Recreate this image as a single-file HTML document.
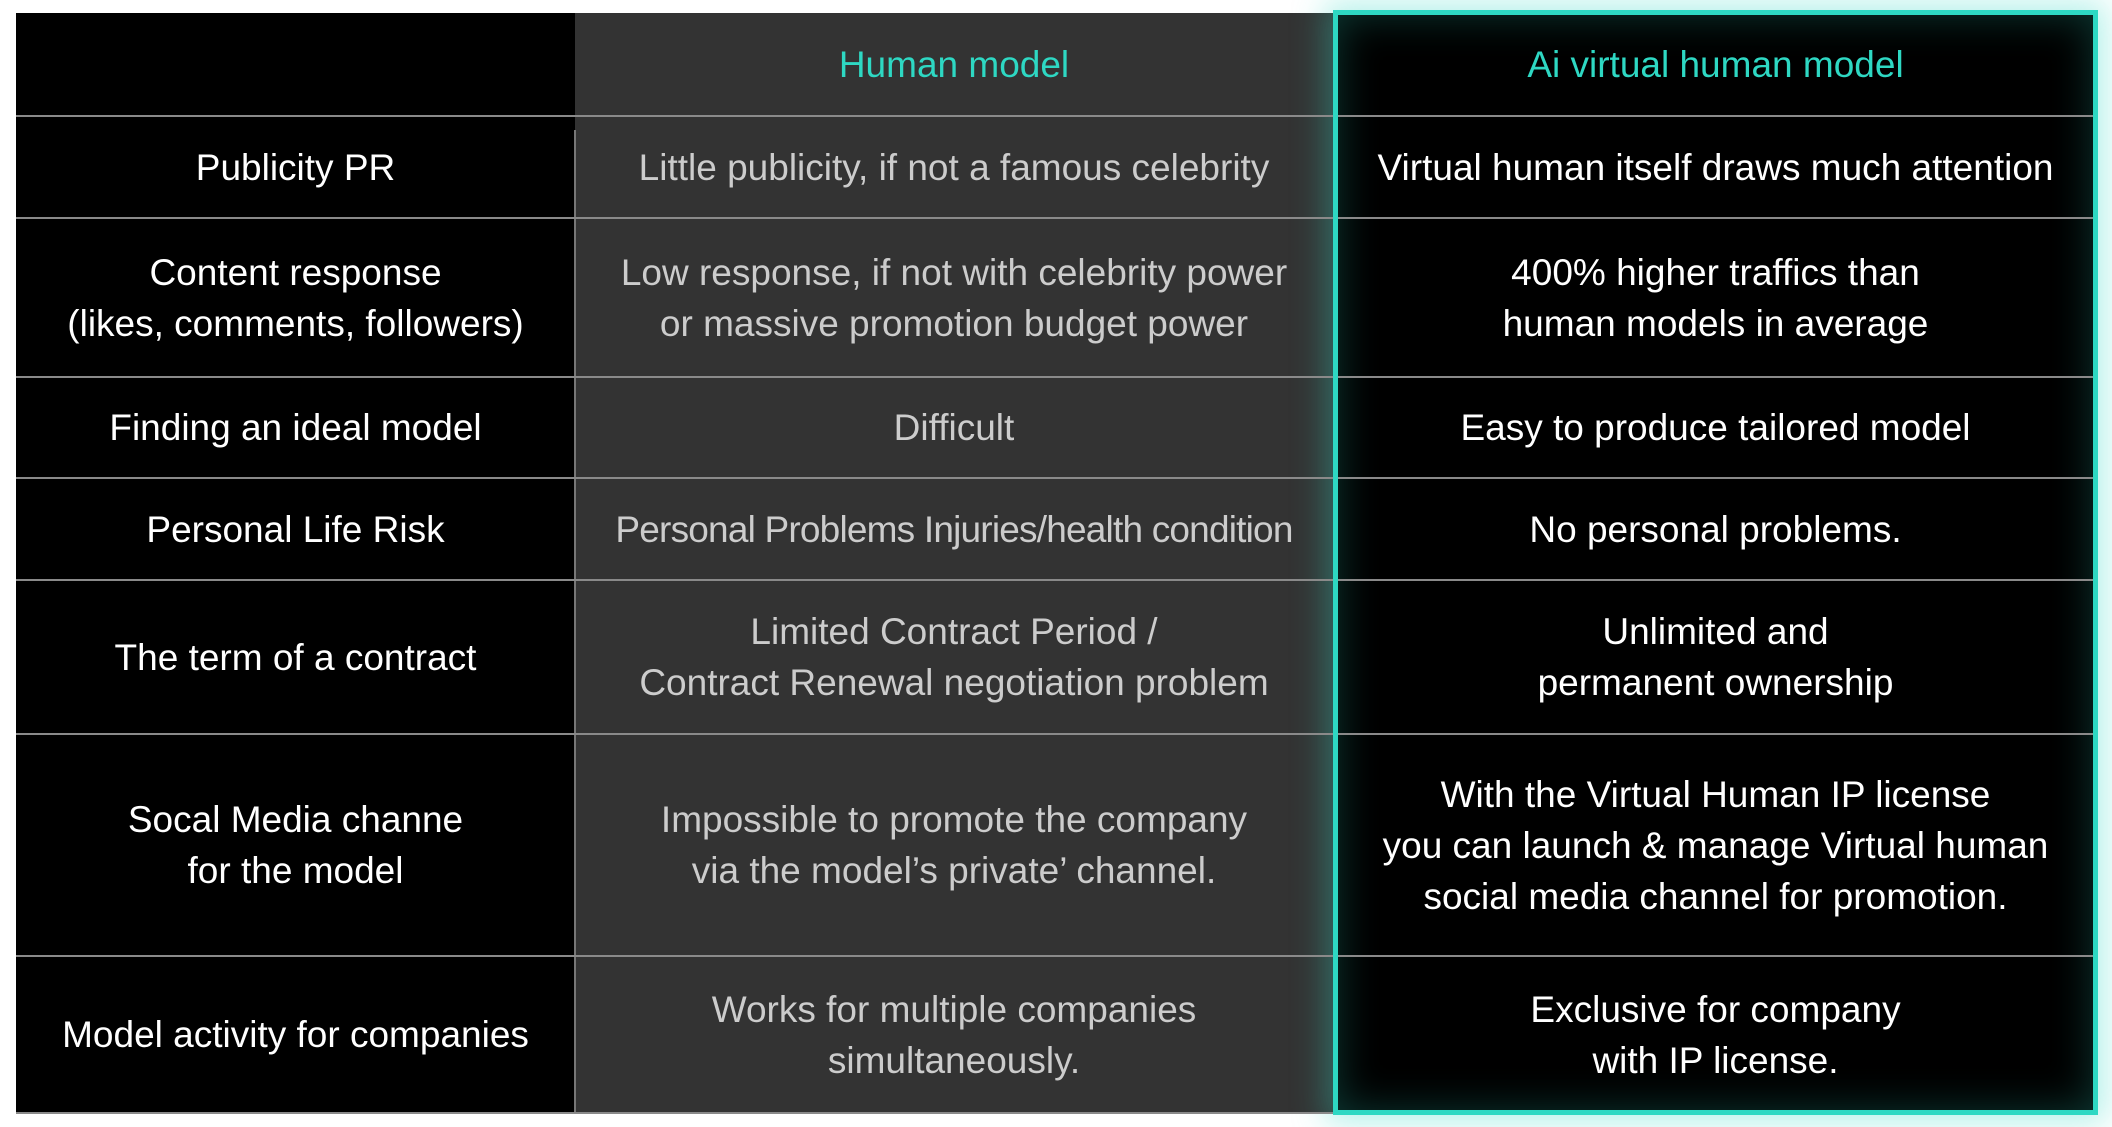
<!DOCTYPE html>
<html><head><style>
body{margin:0;width:2112px;height:1127px;background:#fff;position:relative;overflow:hidden;font-family:"Liberation Sans",sans-serif;}
.c{position:absolute;display:flex;align-items:center;justify-content:center;text-align:center;font-size:37px;line-height:51px;white-space:nowrap;}
.h{position:absolute;height:2px;background:#8a8a8a;}
</style></head><body>
<div style="position:absolute;left:16px;top:13px;width:559px;height:1100px;background:#000"></div>
<div style="position:absolute;left:575px;top:13px;width:758px;height:1100px;background:#333"></div>
<div style="position:absolute;left:1333px;top:10px;width:765px;height:1105px;background:#000;box-shadow:0 0 30px 8px rgba(46,216,195,0.35), inset 0 0 40px 6px rgba(46,216,195,0.25);"></div>
<div style="position:absolute;left:574px;top:130px;width:2px;height:983px;background:#777"></div>
<div class="h" style="left:16px;top:115px;width:2082px"></div>
<div class="h" style="left:16px;top:217px;width:2082px"></div>
<div class="h" style="left:16px;top:376px;width:2082px"></div>
<div class="h" style="left:16px;top:477px;width:2082px"></div>
<div class="h" style="left:16px;top:579px;width:2082px"></div>
<div class="h" style="left:16px;top:733px;width:2082px"></div>
<div class="h" style="left:16px;top:955px;width:2082px"></div>
<div class="h" style="left:16px;top:1112px;width:2082px"></div>
<div style="position:absolute;left:1333px;top:10px;width:755px;height:1095px;border:5px solid #2ed8c3;"></div>

<div class="c" style="left:575px;top:13px;width:758px;height:102px;color:#2ed8c3">Human model</div>
<div class="c" style="left:1338px;top:13px;width:755px;height:102px;color:#2ed8c3">Ai virtual human model</div>

<div class="c" style="left:16px;top:117px;width:559px;height:100px;color:#fff">Publicity PR</div>
<div class="c" style="left:575px;top:117px;width:758px;height:100px;color:#ccc">Little publicity, if not a famous celebrity</div>
<div class="c" style="left:1338px;top:117px;width:755px;height:100px;color:#fff">Virtual human itself draws much attention</div>

<div class="c" style="left:16px;top:219px;width:559px;height:157px;color:#fff">Content response<br>(likes, comments, followers)</div>
<div class="c" style="left:575px;top:219px;width:758px;height:157px;color:#ccc">Low response, if not with celebrity power<br>or massive promotion budget power</div>
<div class="c" style="left:1338px;top:219px;width:755px;height:157px;color:#fff">400% higher traffics than<br>human models in average</div>

<div class="c" style="left:16px;top:378px;width:559px;height:99px;color:#fff">Finding an ideal model</div>
<div class="c" style="left:575px;top:378px;width:758px;height:99px;color:#ccc">Difficult</div>
<div class="c" style="left:1338px;top:378px;width:755px;height:99px;color:#fff">Easy to produce tailored model</div>

<div class="c" style="left:16px;top:479px;width:559px;height:100px;color:#fff">Personal Life Risk</div>
<div class="c" style="left:575px;top:479px;width:758px;height:100px;color:#ccc;letter-spacing:-0.8px">Personal Problems Injuries/health condition</div>
<div class="c" style="left:1338px;top:479px;width:755px;height:100px;color:#fff">No personal problems.</div>

<div class="c" style="left:16px;top:581px;width:559px;height:152px;color:#fff">The term of a contract</div>
<div class="c" style="left:575px;top:581px;width:758px;height:152px;color:#ccc">Limited Contract Period /<br>Contract Renewal negotiation problem</div>
<div class="c" style="left:1338px;top:581px;width:755px;height:152px;color:#fff">Unlimited and<br>permanent ownership</div>

<div class="c" style="left:16px;top:735px;width:559px;height:220px;color:#fff">Socal Media channe<br>for the model</div>
<div class="c" style="left:575px;top:735px;width:758px;height:220px;color:#ccc">Impossible to promote the company<br>via the model’s private’ channel.</div>
<div class="c" style="left:1338px;top:735px;width:755px;height:220px;color:#fff">With the Virtual Human IP license<br>you can launch &amp; manage Virtual human<br>social media channel for promotion.</div>

<div class="c" style="left:16px;top:957px;width:559px;height:155px;color:#fff">Model activity for companies</div>
<div class="c" style="left:575px;top:957px;width:758px;height:155px;color:#ccc">Works for multiple companies<br>simultaneously.</div>
<div class="c" style="left:1338px;top:957px;width:755px;height:155px;color:#fff">Exclusive for company<br>with IP license.</div>
</body></html>
